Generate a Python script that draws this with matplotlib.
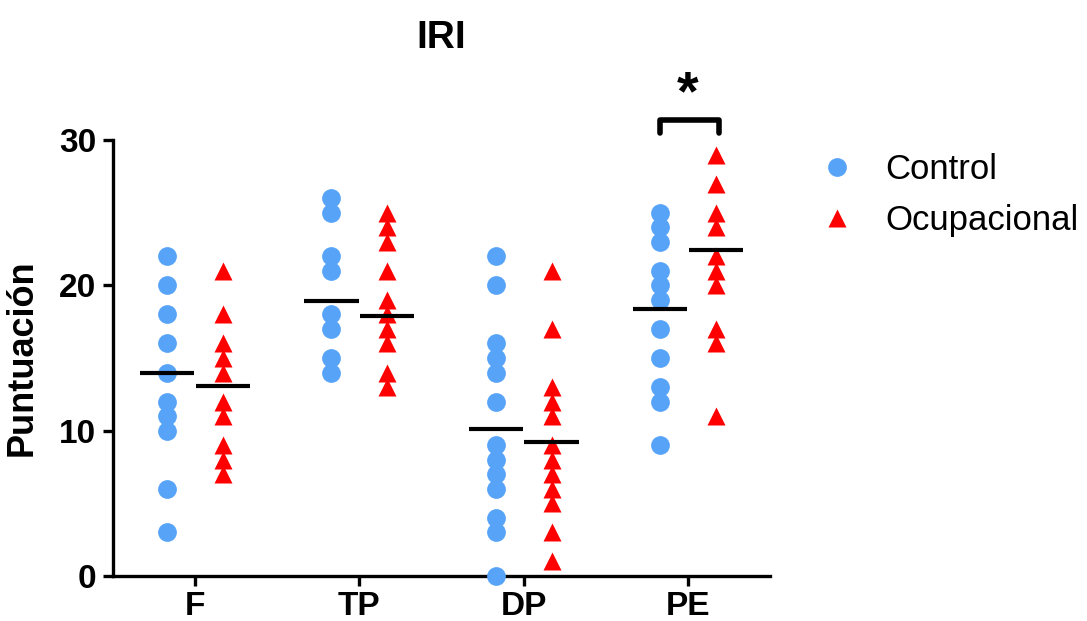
import matplotlib
matplotlib.use("Agg")
import matplotlib.pyplot as plt
from matplotlib.lines import Line2D

plt.rcParams['font.family'] = ['Liberation Sans', 'DejaVu Sans']

categories = ["F", "TP", "DP", "PE"]
control = [
    [22, 20, 18, 16, 14, 12, 11, 10, 6, 3],
    [26, 25, 22, 21, 18, 17, 15, 14],
    [22, 20, 16, 15, 14, 12, 9, 8, 7, 6, 4, 3, 0],
    [25, 24, 23, 21, 20, 19, 17, 15, 13, 12, 9],
]
ocupacional = [
    [21, 18, 16, 15, 14, 12, 11, 9, 8, 7],
    [25, 24, 23, 21, 19, 18, 17, 16, 14, 13],
    [21, 17, 13, 12, 11, 9, 8, 7, 6, 5, 3, 1],
    [29, 27, 25, 24, 22, 21, 20, 17, 16, 11],
]
control_mean = [14.0, 18.9, 10.1, 18.4]
ocupacional_mean = [13.05, 17.9, 9.2, 22.4]
yticks = [0, 10, 20, 30]

blue = "#56A3F8"
red = "#FF0000"
off = 0.17
hw = 0.165

fig = plt.figure(figsize=(10.87, 6.21), dpi=100)
ax = fig.add_axes([0.104, 0.0725, 0.6044, 0.7021])

for i, cat in enumerate(categories):
    ax.plot([i - off] * len(control[i]), control[i], 'o', color=blue, ms=13.5,
            mec='none', clip_on=False, zorder=3)
    ax.plot([i + off] * len(ocupacional[i]), ocupacional[i], '^', color=red, ms=13,
            mec='none', clip_on=False, zorder=3)
    ax.plot([i - off - hw, i - off + hw], [control_mean[i]] * 2, color='black', lw=3,
            solid_capstyle='butt', zorder=4)
    ax.plot([i + off - hw, i + off + hw], [ocupacional_mean[i]] * 2, color='black', lw=3,
            solid_capstyle='butt', zorder=4)

# significance bracket for PE
b0, b1 = 3 - off, 3 + off + 0.02
ax.plot([b0, b0, b1, b1], [30.5, 31.4, 31.4, 30.5], color='black', lw=4,
        solid_capstyle='round', solid_joinstyle='round', clip_on=False)
ax.text(3, 31.3, "*", ha='center', va='bottom', fontsize=40, fontweight='bold', clip_on=False)

ax.set_xlim(-0.5, 3.5)
ax.set_ylim(0, 30)
ax.set_xticks(range(len(categories)))
ax.set_xticklabels(categories)
ax.set_yticks(yticks)
for sp in ['top', 'right']:
    ax.spines[sp].set_visible(False)
for sp in ['left', 'bottom']:
    ax.spines[sp].set_linewidth(2.4)
ax.tick_params(axis='both', width=2.4, length=7, labelsize=24, pad=5)
ax.tick_params(axis='x', pad=4)
for lab in ax.get_xticklabels() + ax.get_yticklabels():
    lab.set_fontweight('bold')
ax.set_ylabel("Puntuación", fontsize=26, fontweight='bold', labelpad=14)
ax.set_title("IRI", fontsize=28, fontweight='bold', pad=66)

handles = [
    Line2D([], [], marker='o', ls='none', color=blue, ms=13.5, mec='none'),
    Line2D([], [], marker='^', ls='none', color=red, ms=13, mec='none'),
]
fig.legend(handles, ["Control", "Ocupacional"], loc='upper left',
           bbox_to_anchor=(0.757, 0.753), frameon=False, fontsize=25,
           handlelength=0.8, handletextpad=1.0, labelspacing=0.5,
           borderaxespad=0, borderpad=0)

fig.savefig("out.png", dpi=100)
